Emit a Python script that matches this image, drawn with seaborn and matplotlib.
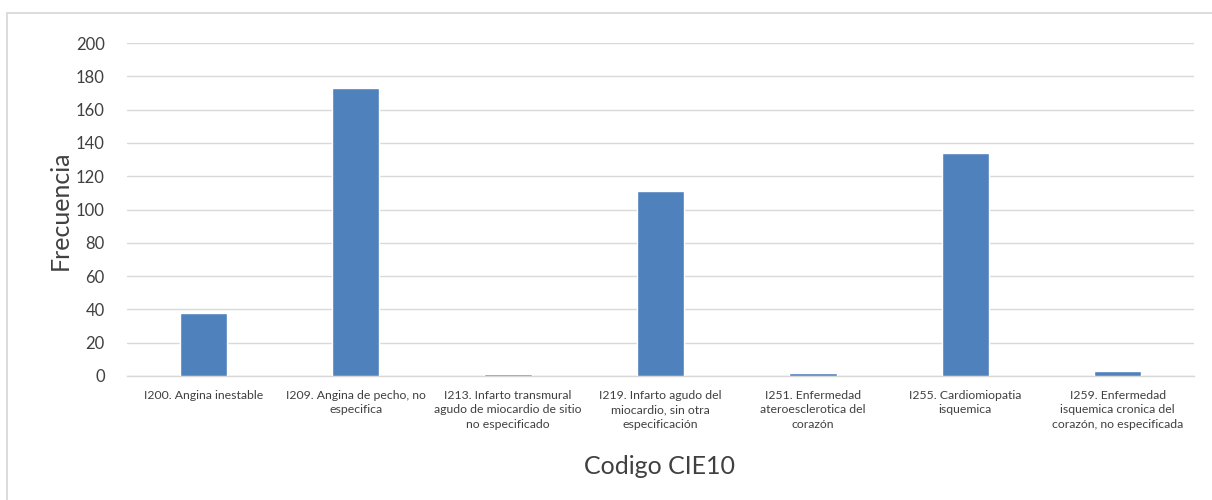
import matplotlib
matplotlib.use("Agg")
import matplotlib.pyplot as plt
import seaborn as sns
import pandas as pd
from matplotlib.patches import Rectangle

# Diagnostic codes (ICD-10) and their frequencies
categorias = [
    "I200. Angina inestable",
    "I209. Angina de pecho, no\nespecifica",
    "I213. Infarto transmural\nagudo de miocardio de sitio\nno especificado",
    "I219. Infarto agudo del\nmiocardio, sin otra\nespecificación",
    "I251. Enfermedad\nateroesclerotica del\ncorazón",
    "I255. Cardiomiopatia\nisquemica",
    "I259. Enfermedad\nisquemica cronica del\ncorazón, no especificada",
]
frecuencias = [38, 173, 1, 111, 2, 134, 3]
y_ticks = [0, 20, 40, 60, 80, 100, 120, 140, 160, 180, 200]

df = pd.DataFrame({"codigo": categorias, "frecuencia": frecuencias})

sns.set_theme(style="white")
plt.rcParams["font.family"] = ["Lato", "DejaVu Sans"]

W, H = 1212, 500
fig = plt.figure(figsize=(W / 100, H / 100), dpi=100)
ax = fig.add_axes([127 / W, 1 - 376 / H, (1194 - 127) / W, (376 - 43) / H])

sns.barplot(data=df, x="codigo", y="frecuencia", color="#4F81BD",
            width=0.31, saturation=1, ax=ax, zorder=3)

ax.set_ylim(0, 200)
ax.set_xlim(-0.5, len(categorias) - 0.5)
ax.set_yticks(y_ticks)
ax.set_yticklabels([str(v) for v in y_ticks], fontsize=12, color="#404040")
ax.tick_params(axis="x", labelsize=8.8, colors="#404040", length=0, pad=10)
ax.tick_params(axis="y", length=0, pad=16)
for lbl in ax.get_xticklabels():
    lbl.set_linespacing(1.4)

ax.grid(axis="y", color="#D9D9D9", linewidth=1, zorder=0)
for side in ["top", "right", "left"]:
    ax.spines[side].set_visible(False)
ax.spines["bottom"].set_color("#D9D9D9")
ax.spines["bottom"].set_linewidth(1)

ax.set_xlabel("")
ax.set_ylabel("")
fig.text(60 / W, 1 - 210 / H, "Frecuencia", rotation=90, ha="center",
         va="center", fontsize=18, color="#404040")
fig.text(660 / W, 1 - 466 / H, "Codigo CIE10", ha="center", va="center",
         fontsize=18, color="#404040")

# Chart frame
fig.patches.append(Rectangle((7 / W, -0.1), 1.2, 1 - 13 / H + 0.1,
                             transform=fig.transFigure, fill=False,
                             edgecolor="#D9D9D9", linewidth=1.3))

fig.savefig("out.png", dpi=100, facecolor="white")
